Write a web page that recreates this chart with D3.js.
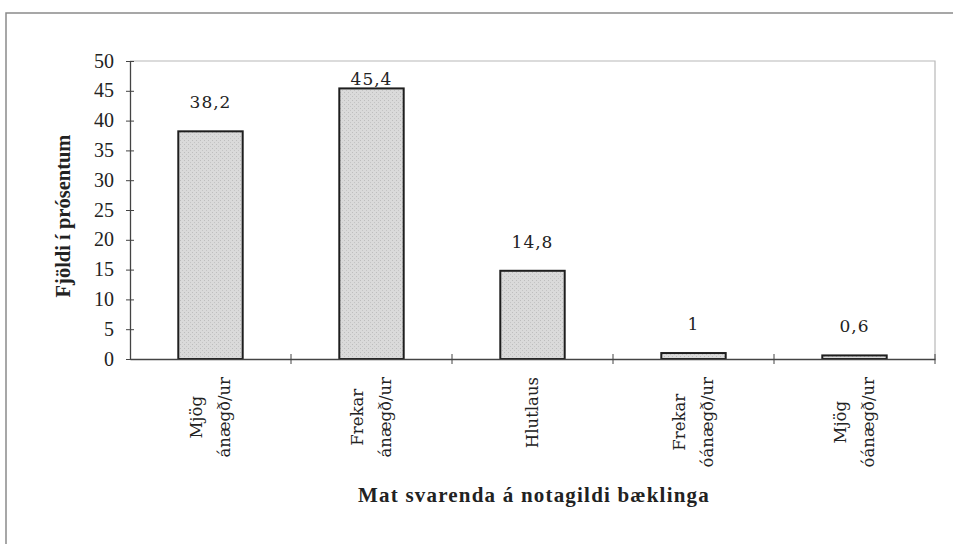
<!DOCTYPE html>
<html>
<head>
<meta charset="utf-8">
<script src="https://cdn.jsdelivr.net/npm/d3@7"></script>
<style>
  html, body { margin: 0; padding: 0; background: #fff; }
  svg { display: block; }
</style>
</head>
<body>
<svg id="chart" width="953" height="544"></svg>
<script>
// ---- data ----
const categories = [
  ["Mjög", "ánægð/ur"],
  ["Frekar", "ánægð/ur"],
  ["Hlutlaus"],
  ["Frekar", "óánægð/ur"],
  ["Mjög", "óánægð/ur"]
];
const values = [38.2, 45.4, 14.8, 1, 0.6];
const valueLabels = ["38,2", "45,4", "14,8", "1", "0,6"];
const yTicks = [0, 5, 10, 15, 20, 25, 30, 35, 40, 45, 50];
const yTitle = "Fjöldi í prósentum";
const xTitle = "Mat svarenda á notagildi bæklinga";

// ---- layout ----
const svg = d3.select("#chart");
const pLeft = 130, pRight = 935, pTop = 61, pBottom = 359;

const x = d3.scaleBand()
  .domain(d3.range(categories.length))
  .range([pLeft, pRight])
  .paddingInner(0.6)
  .paddingOuter(0.3);
const xStep = x.step();
const y = d3.scaleLinear().domain([0, 50]).range([pBottom, pTop]);

// stipple pattern for bars
const defs = svg.append("defs");
const pat = defs.append("pattern")
  .attr("id", "stip").attr("patternUnits", "userSpaceOnUse")
  .attr("width", 4).attr("height", 4);
pat.append("rect").attr("width", 4).attr("height", 4).attr("fill", "#dadada");
pat.append("rect").attr("x", 0).attr("y", 0).attr("width", 1).attr("height", 1).attr("fill", "#bdbdbd");
pat.append("rect").attr("x", 2).attr("y", 2).attr("width", 1).attr("height", 1).attr("fill", "#c4c4c4");

// outer frame
svg.append("path")
  .attr("d", "M6,544 L6,13 L953,13")
  .attr("fill", "none").attr("stroke", "#8a8a8a").attr("stroke-width", 1.5);

// plot area border (top & right)
svg.append("path")
  .attr("d", `M${pLeft},${pTop} L${pRight},${pTop} L${pRight},${pBottom}`)
  .attr("fill", "none").attr("stroke", "#b8b8b8").attr("stroke-width", 1.2);

// bars
svg.selectAll("rect.bar").data(values).enter().append("rect")
  .attr("class", "bar")
  .attr("x", (d, i) => x(i))
  .attr("width", x.bandwidth())
  .attr("y", d => y(d))
  .attr("height", d => y(0) - y(d))
  .attr("fill", "url(#stip)")
  .attr("stroke", "#1e1e1e")
  .attr("stroke-width", 2);

// value labels
svg.selectAll("text.val").data(values).enter().append("text")
  .attr("class", "val")
  .attr("x", (d, i) => x(i) + x.bandwidth() / 2)
  .attr("y", d => Math.max(y(d) - 23, y(50) + 24))
  .attr("text-anchor", "middle")
  .attr("font-family", "DejaVu Serif")
  .attr("font-size", 17)
  .attr("letter-spacing", 1)
  .attr("fill", "#222")
  .text((d, i) => valueLabels[i]);

// y axis
const yAxis = d3.axisLeft(y).tickValues(yTicks).tickSize(0).tickPadding(16);
const gy = svg.append("g").attr("transform", `translate(${pLeft},0)`).call(yAxis);
gy.select(".domain").attr("stroke", "#444").attr("stroke-width", 1.3);
gy.selectAll(".tick text")
  .attr("font-family", "Liberation Serif")
  .attr("font-size", 20)
  .attr("fill", "#222")
  .attr("dy", "0.3em");
gy.selectAll(".tick").append("line")
  .attr("x1", -4).attr("x2", 4)
  .attr("stroke", "#444").attr("stroke-width", 1);

// x axis
const xAxis = d3.axisBottom(x).tickSize(0).tickFormat("");
const gx = svg.append("g").attr("transform", `translate(0,${pBottom})`).call(xAxis);
gx.select(".domain").attr("stroke", "#444").attr("stroke-width", 1.3);
gx.selectAll(".tick").remove();
// tick marks at band boundaries
const bounds = d3.range(1, categories.length + 1).map(i => x.range()[0] + i * xStep);
gx.selectAll("line.xt").data(bounds).enter().append("line")
  .attr("class", "xt")
  .attr("x1", d => d).attr("x2", d => d)
  .attr("y1", -5).attr("y2", 5)
  .attr("stroke", "#444").attr("stroke-width", 1);

// category labels (rotated, multi-line, centered within block)
const blockTop = 377, lineGap = 28, capOff = 5;
categories.forEach((lines, i) => {
  const cx = x(i) + x.bandwidth() / 2;
  const g = svg.append("g").attr("transform", `translate(${cx},${blockTop}) rotate(-90)`);
  const texts = lines.map((ln, j) => g.append("text")
    .attr("y", (j - (lines.length - 1) / 2) * lineGap + capOff)
    .attr("text-anchor", "middle")
    .attr("font-family", "DejaVu Serif")
    .attr("font-size", 16.5)
    .attr("fill", "#222")
    .text(ln));
  const maxLen = d3.max(texts, t => t.node().getComputedTextLength());
  texts.forEach(t => t.attr("x", -maxLen / 2));
});

// axis titles
svg.append("text")
  .attr("transform", `translate(70,216) rotate(-90)`)
  .attr("text-anchor", "middle")
  .attr("font-family", "Liberation Serif")
  .attr("font-weight", "bold")
  .attr("font-size", 20.5)
  .attr("fill", "#222")
  .text(yTitle);

svg.append("text")
  .attr("x", 534)
  .attr("y", 502)
  .attr("text-anchor", "middle")
  .attr("font-family", "Liberation Serif")
  .attr("font-weight", "bold")
  .attr("font-size", 21)
  .attr("letter-spacing", 1.2)
  .attr("fill", "#222")
  .text(xTitle);
</script>
</body>
</html>
